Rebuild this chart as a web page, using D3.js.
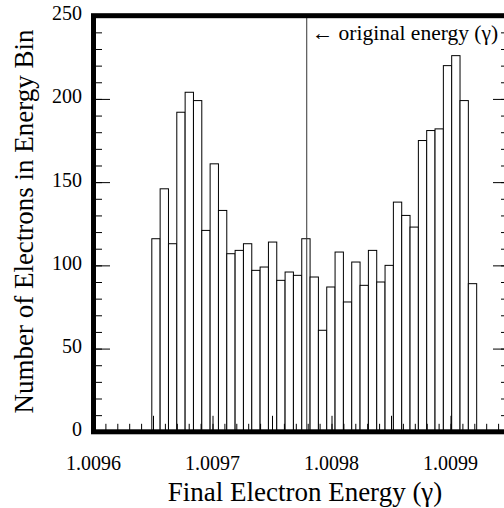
<!DOCTYPE html>
<html>
<head>
<meta charset="utf-8">
<script src="https://cdn.jsdelivr.net/npm/d3@7"></script>
</head>
<body style="margin:0">
<svg id="chart" width="504" height="508" style="font-family:'Liberation Serif'"></svg>
<script>
// histogram counts, one per energy bin (left to right)
const counts = [116, 146, 113, 192, 204, 199, 121, 161, 133, 107, 109, 113, 97, 99, 114, 91, 96, 94, 116, 93,
                61, 87, 108, 78, 102, 88, 109, 90, 100, 138, 130, 123, 175, 181, 182, 220, 226, 199, 89];
const binStart = 1.009649;
const binWidth = 0.000007;
const originalEnergy = 1.0097792;

const xTickLabels = [1.0096, 1.0097, 1.0098, 1.0099];
const yTickLabels = [0, 50, 100, 150, 200, 250];

const plotLeft = 93.5, plotRight = 510, plotTop = 15.7, plotBottom = 431.8;

const svg = d3.select("#chart");

const x = d3.scaleLinear().domain([1.0096, 1.00995]).range([plotLeft, plotRight]);
const y = d3.scaleLinear().domain([0, 250]).range([plotBottom, plotTop]);

const bins = counts.map((c, i) => ({
    x0: binStart + i * binWidth,
    x1: binStart + (i + 1) * binWidth,
    n: c
}));

// bars
svg.append("g")
    .selectAll("rect")
    .data(bins)
    .join("rect")
    .attr("x", d => x(d.x0))
    .attr("y", d => y(d.n))
    .attr("width", d => x(d.x1) - x(d.x0))
    .attr("height", d => y(0) - y(d.n))
    .attr("fill", "#fff")
    .attr("stroke", "#000")
    .attr("stroke-width", 1);

// original energy marker
svg.append("line")
    .attr("x1", x(originalEnergy)).attr("x2", x(originalEnergy))
    .attr("y1", plotTop).attr("y2", plotBottom)
    .attr("stroke", "#333")
    .attr("stroke-width", 1);

// ticks
const xMinor = d3.range(0, 36).map(i => 1.0096 + i * 0.00001);
const xMid = d3.range(0, 8).map(i => 1.0096 + i * 0.00005);
const yMinor = d3.range(0, 26).map(i => i * 10);

function styleAxis(g) {
    g.attr("font-family", null).attr("font-size", null);
    g.select(".domain").remove();
    g.selectAll("line").attr("stroke", "#000").attr("stroke-width", 1);
}

svg.append("g")
    .attr("transform", `translate(0,${plotBottom})`)
    .call(d3.axisBottom(x).tickValues(xMinor).tickFormat("").tickSizeInner(-8).tickSizeOuter(0))
    .call(styleAxis);
svg.append("g")
    .attr("transform", `translate(0,${plotBottom})`)
    .call(d3.axisBottom(x).tickValues(xMid).tickFormat("").tickSizeInner(-16).tickSizeOuter(0))
    .call(styleAxis);
svg.append("g")
    .attr("transform", `translate(${plotLeft},0)`)
    .call(d3.axisLeft(y).tickValues(yMinor).tickFormat("").tickSizeInner(-8.5).tickSizeOuter(0))
    .call(styleAxis);
svg.append("g")
    .attr("transform", `translate(${plotLeft},0)`)
    .call(d3.axisLeft(y).tickValues(yTickLabels).tickFormat("").tickSizeInner(-16.5).tickSizeOuter(0))
    .call(styleAxis);
svg.append("g")
    .attr("transform", `translate(${plotRight},0)`)
    .call(d3.axisRight(y).tickValues(yMinor).tickFormat("").tickSizeInner(-9).tickSizeOuter(0))
    .call(styleAxis);
svg.append("g")
    .attr("transform", `translate(${plotRight},0)`)
    .call(d3.axisRight(y).tickValues(yTickLabels).tickFormat("").tickSizeInner(-17).tickSizeOuter(0))
    .call(styleAxis);

// heavy frame
svg.append("rect")
    .attr("x", plotLeft).attr("y", plotTop)
    .attr("width", plotRight - plotLeft).attr("height", plotBottom - plotTop)
    .attr("fill", "none")
    .attr("stroke", "#000")
    .attr("stroke-width", 5);

// tick labels
svg.append("g")
    .selectAll("text")
    .data(xTickLabels)
    .join("text")
    .attr("x", d => x(d))
    .attr("y", 470)
    .attr("text-anchor", "middle")
    .style("font-family", "'Liberation Serif'")
    .style("font-size", "20px")
    .text(d3.format(".4f"));

svg.append("g")
    .selectAll("text")
    .data(yTickLabels)
    .join("text")
    .attr("x", 82)
    .attr("y", d => y(d) + 4.5)
    .attr("text-anchor", "end")
    .style("font-family", "'Liberation Serif'")
    .style("font-size", "20px")
    .text(d => d);

svg.append("text")
    .attr("x", x(originalEnergy) + 5)
    .attr("y", 40)
    .style("font-family", "'Liberation Serif'")
    .style("font-size", "21.5px")
    .text("\u2190 original energy (\u03b3)");

// titles
svg.append("text")
    .attr("x", 305)
    .attr("y", 500.7)
    .attr("text-anchor", "middle")
    .style("font-family", "'Liberation Serif'")
    .style("font-size", "27px")
    .text("Final Electron Energy (\u03b3)");

svg.append("text")
    .attr("transform", "translate(33,221.5) rotate(-90)")
    .attr("text-anchor", "middle")
    .style("font-family", "'Liberation Serif'")
    .style("font-size", "27px")
    .text("Number of Electrons in Energy Bin");
</script>
</body>
</html>
